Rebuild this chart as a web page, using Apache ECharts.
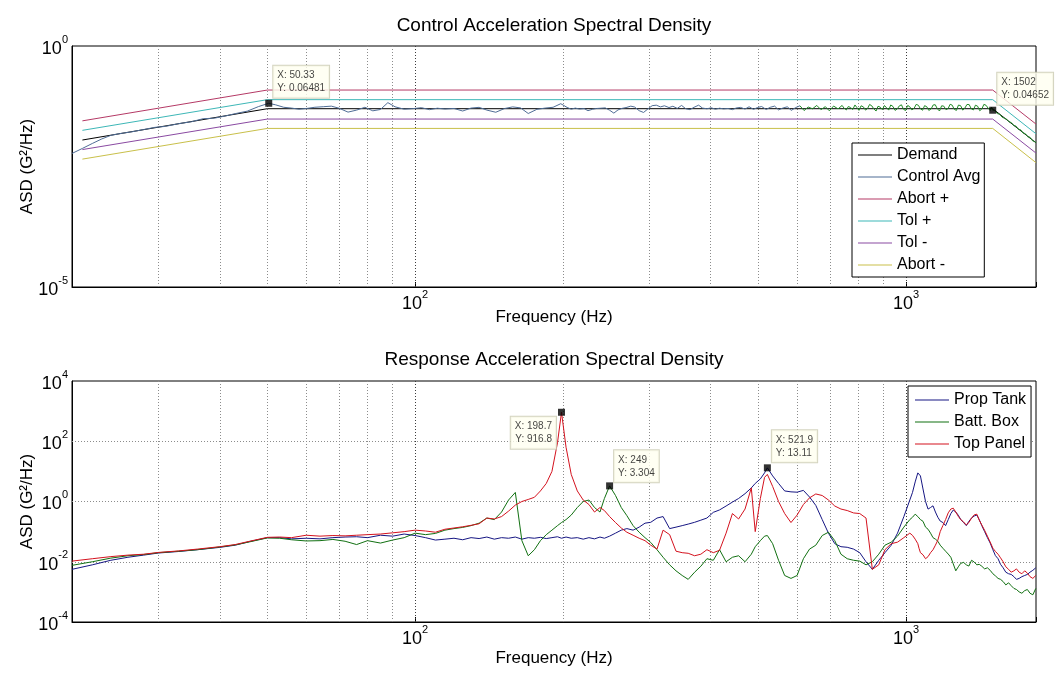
<!DOCTYPE html>
<html>
<head>
<meta charset="utf-8">
<script src="https://cdn.jsdelivr.net/npm/echarts@6/dist/echarts.min.js"></script>
<style>
html, body { margin: 0; padding: 0; background: #fff; }
#c { width: 1063px; height: 677px; }
</style>
</head>
<body>
<div id="c"></div>
<script>
// ---------- Control loop: reference profile (Hz, G^2/Hz) ----------
const profileFreq = [21, 50, 1502, 1840];
const demand      = [0.0112, 0.05, 0.05, 0.0098];
const abortPlus   = [0.028, 0.122, 0.122, 0.024];
const tolPlus     = [0.0178, 0.077, 0.077, 0.0151];
const tolMinus    = [0.0071, 0.0305, 0.0305, 0.006];
const abortMinus  = [0.0045, 0.0195, 0.0195, 0.0038];

// Control average, low/mid band
const ctrlFreq = [20,21,22,23,24,25,26.5,28,29.5,31,33,35,37,39,41,43,45.5,48,50.33,52,
  54,56,58,60,62.5,65,67.5,70,73,76,79,82,85,88,91,95,99,103,107,111,
  115,120,125,130,135,140,146,152,158,164,170,177,184,191,198,204,208,212,216,221,
  225,230,234,239,244,249,254,259,264,269,275,280,286,292,298,304,310,316,322,329,
  335,342,349,356,363,370,378,385,393,401,409,417,425,434,443,451,460,470,479,489,
  498,508,519,529,540,550,561,573,584,596,608];
const ctrlAvg = [0.0059,0.0075,0.0095,0.0118,0.014,0.0152,0.0166,0.0185,0.0205,0.0215,
  0.0245,0.0268,0.031,0.0318,0.0352,0.0395,0.0445,0.0555,0.06481,0.0601,
  0.0535,0.0515,0.0488,0.0505,0.0536,0.055,0.0565,0.0512,0.0425,0.0468,
  0.0535,0.0452,0.0482,0.0668,0.0548,0.0488,0.0502,0.0525,0.0478,0.0512,
  0.0492,0.0506,0.0448,0.0515,0.0534,0.0468,0.0422,0.0503,0.0545,0.052,
  0.0398,0.0485,0.0515,0.0535,0.0635,0.0532,0.0488,0.0515,0.0492,0.0502,
  0.0455,0.0488,0.0505,0.0512,0.052,0.0465,0.0405,0.0472,0.0508,0.0528,
  0.0565,0.0542,0.0455,0.0418,0.0495,0.0578,0.0592,0.0545,0.0575,0.0528,
  0.0562,0.0508,0.0585,0.0498,0.0478,0.0535,0.0592,0.0515,0.0498,0.0522,
  0.0488,0.0512,0.0496,0.0505,0.0478,0.0518,0.0532,0.0492,0.0548,0.0485,
  0.0528,0.0555,0.0482,0.0535,0.0566,0.0472,0.0515,0.0548,0.0462,0.0528,0.0575];

// Control average, high band (plotted in green)
const ctrlHfFreq = [608,620,632,645,658,671,685,698,712,727,
  741,748,756,763,771,779,787,794,802,810,819,827,835,843,852,860,869,877,886,895,
  904,913,922,931,941,950,960,969,979,988,998,1008,1018,1028,1039,1049,1060,1070,1081,1091,
  1102,1113,1125,1136,1147,1158,1170,1182,1194,1206,1218,1230,1242,1254,1267,1279,1292,1305,1318,1331,
  1345,1358,1372,1385,1399,1413,1427,1441,1456,1470,1485,1494,1502,
  1518,1535,1552,1569,1586,1604,1621,1639,1657,1675,1694,1712,1731,1750,
  1770,1789,1809,1829,1840];
const ctrlHf = [0.0575,0.0458,0.0542,0.0498,0.0585,0.0478,0.0552,0.0452,0.0568,0.0495,
  0.0585,0.0512,0.0472,0.0556,0.0528,0.0482,0.0598,0.0531,0.0462,0.0575,0.0545,0.0468,0.0505,0.0612,0.0572,0.0495,0.0448,0.0562,0.0538,0.0478,
  0.0582,0.0521,0.0468,0.0598,0.0555,0.0462,0.0495,0.0572,0.0602,0.0488,0.0458,0.0585,0.0548,0.0472,0.0512,0.0615,0.0588,0.0498,0.0465,0.0578,
  0.0552,0.0461,0.0495,0.0598,0.0605,0.0502,0.0448,0.0575,0.0565,0.0478,0.0502,0.0618,0.0592,0.0485,0.0462,0.0595,0.0578,0.0468,0.0515,0.0612,
  0.0608,0.0498,0.0472,0.0592,0.0565,0.0455,0.0492,0.0615,0.0588,0.0512,0.0458,0.0538,0.04652,
  0.0462,0.0395,0.0385,0.0335,0.0318,0.0302,0.0268,0.0258,0.0224,0.0218,0.0186,0.0183,0.0157,0.0152,
  0.0131,0.0128,0.0109,0.0104,0.0098];

// Data-tip points on the control curve
const ctrlTipFreq = [50.33, 1502];
const ctrlTipVal  = [0.06481, 0.04652];

// ---------- Response channels ----------
const respFreq = [20,22,24,26,28,30,33,36,40,43,46,50,53,56,60,64,68,72,76,80,
  85,90,95,100,105,110,115,120,125,130,135,140,145,150,155,160,165,170,175,180,
  185,190,195,198.7,203,208,214,220,226,232,238,243,249,256,263,270,278,286,294,302,
  311,320,330,340,350,360,371,382,393,405,417,430,443,456,470,484,493,505,515,521.9,
  535,550,566,583,600,618,636,655,675,695,716,737,759,782,805,829,854,880,906,933,
  961,990,
  1018,1031,1044,1057,1063,1070,1083,1096,1109,1122,
  1135,1148,1161,1174,1189,1204,1219,1234,1248,1263,
  1278,1293,1310,1327,1343,1360,1377,1394,1410,1427,
  1446,1465,1484,1503,1521,1540,1558,1577,1597,1618,
  1638,1659,1679,1700,1722,1745,1767,1789,1813,1838];
const propTank = [0.0056,0.0079,0.0112,0.0141,0.0166,0.0195,0.0219,0.0251,0.030,0.0355,
  0.0468,0.0631,0.0631,0.0575,0.0603,0.0575,0.0631,0.0661,0.0676,0.0631,
  0.0759,0.0708,0.0832,0.0741,0.0631,0.0525,0.0562,0.0603,0.0537,0.0631,
  0.0589,0.0661,0.0562,0.0631,0.0603,0.0661,0.0562,0.0631,0.0603,0.0646,
  0.0589,0.0631,0.0676,0.0603,0.0661,0.0603,0.0631,0.0562,0.0631,0.0575,
  0.0661,0.0603,0.0708,0.0891,0.112,0.126,0.112,0.141,0.191,0.204,
  0.282,0.316,0.126,0.141,0.158,0.178,0.204,0.24,0.282,0.437,
  0.525,0.708,0.955,1.26,1.82,2.82,3.98,5.62,8.91,13.11,
  7.08,3.98,2.24,2.09,2.04,2.34,1.41,0.741,0.251,0.0891,
  0.0398,0.0316,0.0302,0.0263,0.020,0.010,0.0056,0.0112,0.020,0.0355,
  0.0891,0.316,
  1.12,2.0,4.47,8.91,8.2,7.08,2.6,1.0,0.56,0.631,
  0.72,0.447,0.30,0.224,0.20,0.158,0.25,0.398,0.52,0.447,
  0.35,0.251,0.20,0.158,0.22,0.282,0.33,0.355,0.25,0.158,
  0.10,0.0631,0.042,0.0251,0.016,0.0126,0.0082,0.0063,0.0045,0.004,
  0.0038,0.0032,0.0026,0.0028,0.0032,0.0035,0.0038,0.0045,0.0052,0.0063];
const battBox = [0.0076,0.010,0.0132,0.0158,0.0174,0.020,0.0224,0.0251,0.031,0.0363,
  0.0457,0.0617,0.0603,0.0537,0.049,0.0501,0.055,0.0479,0.0372,0.0501,
  0.0417,0.0525,0.0631,0.0891,0.0794,0.0871,0.112,0.126,0.138,0.158,
  0.191,0.282,0.251,0.447,1.12,2.0,0.0501,0.0158,0.0251,0.0501,
  0.0794,0.112,0.158,0.20,0.251,0.355,0.631,1.0,1.12,0.631,
  0.447,1.26,3.304,1.58,0.631,0.339,0.158,0.0955,0.0631,0.0437,
  0.0251,0.0141,0.0079,0.005,0.0035,0.0026,0.0045,0.0071,0.0126,0.0112,
  0.0251,0.010,0.0141,0.0158,0.010,0.0178,0.0316,0.0501,0.0708,0.0741,
  0.0398,0.0112,0.0035,0.0028,0.0035,0.0126,0.0263,0.0355,0.0741,0.0955,
  0.0501,0.0178,0.0126,0.0112,0.0105,0.0079,0.010,0.0178,0.0355,0.0447,
  0.0708,0.141,
  0.251,0.30,0.38,0.316,0.28,0.251,0.22,0.141,0.12,0.0891,
  0.063,0.0562,0.048,0.0355,0.028,0.0224,0.018,0.0141,0.0085,0.005,
  0.0068,0.0089,0.0095,0.0079,0.0072,0.0112,0.0098,0.0079,0.0082,0.0071,
  0.0058,0.0063,0.0052,0.004,0.0034,0.0028,0.0026,0.0022,0.0017,0.002,
  0.0016,0.0013,0.0012,0.001,0.0009,0.0011,0.0012,0.0009,0.0008,0.0013];
const topPanel = [0.0105,0.0126,0.0148,0.0166,0.0178,0.0204,0.0229,0.0263,0.0316,0.0372,
  0.0479,0.0646,0.0661,0.0631,0.0759,0.0708,0.0741,0.0724,0.0759,0.0794,
  0.0832,0.0912,0.10,0.112,0.105,0.0955,0.120,0.132,0.145,0.162,
  0.182,0.282,0.263,0.316,0.479,0.759,1.0,1.17,1.38,2.24,
  3.98,10,89,916.8,63,7.9,2.24,1.12,0.794,0.447,
  0.631,0.501,0.316,0.20,0.132,0.0955,0.0759,0.0603,0.0501,0.0355,
  0.0263,0.112,0.0794,0.0224,0.020,0.0191,0.0158,0.0178,0.0251,0.020,
  0.024,0.0891,0.398,0.263,0.562,2.82,0.10,1.26,6.31,7.94,
  3.16,1.0,0.398,0.20,0.355,0.794,1.32,1.78,1.58,1.12,
  0.708,0.562,0.501,0.417,0.398,0.282,0.0056,0.0079,0.0251,0.0398,
  0.0447,0.0631,
  0.0891,0.075,0.0562,0.0398,0.028,0.020,0.017,0.0126,0.0148,0.020,
  0.025,0.0355,0.052,0.10,0.16,0.251,0.42,0.562,0.60,0.447,
  0.32,0.251,0.21,0.166,0.20,0.282,0.36,0.38,0.24,0.166,
  0.11,0.0708,0.045,0.0282,0.022,0.0178,0.0135,0.010,0.0068,0.0056,
  0.0045,0.005,0.0058,0.0045,0.004,0.005,0.0042,0.0032,0.0028,0.0035];

// Data-tip points on the response curves
const respTipFreq = [198.7, 249, 521.9];
const respTipVal  = [916.8, 3.304, 13.11];

// Grid line positions and labelled decades
const freqMin = 20, freqMax = 1840;
const minorGridFreq = [30,40,50,60,70,80,90,200,300,400,500,600,700,800,900];
const majorGridFreq = [100, 1000];
const respGridVal   = [0.01, 1, 100];
const freqDecades   = [2, 3];
const ctrlDecades   = [-5, 0];
const respDecades   = [-4, -2, 0, 2, 4];

// ---------- helpers ----------
const FONT = '"Liberation Sans", Arial, Helvetica, sans-serif';
const pairs = (xs, ys) => xs.map((x, i) => [x, ys[i]]);

function decadeLabel(shown) {
  return function (v) {
    const lg = Math.log10(v);
    const e = Math.round(lg);
    if (Math.abs(lg - e) > 1e-6 || shown.indexOf(e) < 0) return '';
    return '{b|10}{s|' + e + '}';
  };
}
const supRich = {
  b: { fontSize: 18, fontFamily: FONT, color: '#000', padding: [6, 0, 0, 0] },
  s: { fontSize: 11, fontFamily: FONT, color: '#000', verticalAlign: 'top' }
};

function xAxisFor(gi, gap) {
  return {
    type: 'log', logBase: 10, gridIndex: gi, min: freqMin, max: freqMax,
    axisLine: { show: true, lineStyle: { color: '#000', width: 1 } },
    axisTick: { show: true, inside: true, length: 5, lineStyle: { color: '#000' } },
    axisLabel: { formatter: decadeLabel(freqDecades), rich: supRich, margin: 2,
                 showMinLabel: true, showMaxLabel: true },
    splitLine: { show: false },
    name: 'Frequency (Hz)', nameLocation: 'middle', nameGap: gap, nameMoveOverlap: false,
    nameTextStyle: { fontSize: 17, fontFamily: FONT, color: '#000' }
  };
}
function yAxisFor(gi, min, max, shown) {
  return {
    type: 'log', logBase: 10, gridIndex: gi, min: min, max: max,
    axisLine: { show: true, lineStyle: { color: '#000', width: 1 } },
    axisTick: { show: false },
    axisLabel: { formatter: decadeLabel(shown), rich: supRich, margin: 4,
                 showMinLabel: true, showMaxLabel: true },
    splitLine: { show: false },
    name: 'ASD (G²/Hz)', nameLocation: 'middle', nameGap: 36, nameMoveOverlap: false,
    nameTextStyle: { fontSize: 17, fontFamily: FONT, color: '#000' }
  };
}

const gridLineStyle = { type: [1, 2], color: '#8c8c8c', width: 1 };
function gridMarks(withHorizontal) {
  const data = minorGridFreq.map(f => ({ xAxis: f }))
    .concat(majorGridFreq.map(f => ({ xAxis: f, lineStyle: { type: [1, 2], color: '#3c3c3c', width: 1 } })));
  if (withHorizontal) respGridVal.forEach(v => data.push({ yAxis: v }));
  return { silent: true, symbol: ['none', 'none'], label: { show: false },
           lineStyle: gridLineStyle, data: data, z: 1, animation: false };
}

function lineSeries(name, gi, xs, ys, color, extra) {
  return Object.assign({
    name: name, type: 'line', xAxisIndex: gi, yAxisIndex: gi,
    data: pairs(xs, ys), symbol: 'none', showSymbol: false,
    lineStyle: { color: color, width: 1 }, itemStyle: { color: color },
    z: 2, animation: false
  }, extra || {});
}

const tipLabel = {
  show: true, fontSize: 10, fontFamily: FONT, color: '#111', lineHeight: 13,
  backgroundColor: '#fffff0', borderColor: '#c9c9b0', borderWidth: 1,
  padding: [3, 4, 3, 4],
  formatter: p => 'X: ' + p.value[0] + '\nY: ' + p.value[1]
};
// label anchor offsets for each tip box
const ctrlTipPos = [[8, -34], [8, -34]];
const respTipPos = [[-2, 8, 'right'], [8, -32], [8, -34]];

function tipSeries(gi, xs, ys, pos) {
  return {
    type: 'scatter', xAxisIndex: gi, yAxisIndex: gi, z: 10,
    symbol: 'rect', symbolSize: 7, itemStyle: { color: '#000' },
    label: tipLabel, silent: true, animation: false, clip: false,
    data: xs.map((x, i) => ({
      value: [x, ys[i]],
      label: { position: [pos[i][0], pos[i][1]], align: pos[i][2] || 'left', verticalAlign: 'top' }
    }))
  };
}

const legendBase = {
  orient: 'vertical', selectedMode: false, icon: 'rect', itemWidth: 34, itemHeight: 1, itemGap: 6,
  borderColor: '#000', borderWidth: 1, backgroundColor: '#fff',
  textStyle: { fontSize: 16, fontFamily: FONT, color: '#000' }, z: 20
};

const option = {
  animation: false,
  backgroundColor: '#fff',
  grid: [
    { left: 72, right: 27, top: 46, height: 241, show: true, borderColor: '#000', borderWidth: 1, backgroundColor: '#fff' },
    { left: 72, right: 27, top: 381, height: 241, show: true, borderColor: '#000', borderWidth: 1, backgroundColor: '#fff' }
  ],
  graphic: [
    { type: 'text', x: 554, y: 26, silent: true,
      style: { text: 'Control Acceleration Spectral Density', font: '19px ' + FONT, fill: '#000', align: 'center', verticalAlign: 'middle' } },
    { type: 'text', x: 554, y: 360, silent: true,
      style: { text: 'Response Acceleration Spectral Density', font: '19px ' + FONT, fill: '#000', align: 'center', verticalAlign: 'middle' } }
  ],
  legend: [
    Object.assign({}, legendBase, { data: ['Demand', 'Control Avg', 'Abort +', 'Tol +', 'Tol -', 'Abort -'],
      left: 852, top: 143, padding: [4, 4, 4, 6] }),
    Object.assign({}, legendBase, { data: ['Prop Tank', 'Batt. Box', 'Top Panel'],
      left: 908, top: 386, padding: [6, 5, 5, 7] })
  ],
  xAxis: [xAxisFor(0, 22), xAxisFor(1, 28)],
  yAxis: [yAxisFor(0, 1e-5, 1, ctrlDecades), yAxisFor(1, 1e-4, 1e4, respDecades)],
  series: [
    lineSeries('Demand', 0, profileFreq, demand, '#000000', { markLine: gridMarks(false) }),
    lineSeries('Control Avg', 0, ctrlFreq, ctrlAvg, '#4f6d96'),
    lineSeries('Control Avg HF', 0, ctrlHfFreq, ctrlHf, '#1f8a26'),
    lineSeries('Abort +', 0, profileFreq, abortPlus, '#b53a66'),
    lineSeries('Tol +', 0, profileFreq, tolPlus, '#3db7b7'),
    lineSeries('Tol -', 0, profileFreq, tolMinus, '#8a4aa2'),
    lineSeries('Abort -', 0, profileFreq, abortMinus, '#c9c04a'),
    tipSeries(0, ctrlTipFreq, ctrlTipVal, ctrlTipPos),

    lineSeries('Prop Tank', 1, respFreq, propTank, '#161683', { markLine: gridMarks(true) }),
    lineSeries('Batt. Box', 1, respFreq, battBox, '#117011'),
    lineSeries('Top Panel', 1, respFreq, topPanel, '#d4121e'),
    tipSeries(1, respTipFreq, respTipVal, respTipPos)
  ]
};

const chart = echarts.init(document.getElementById('c'), null, { renderer: 'canvas' });
chart.setOption(option);
</script>
</body>
</html>
